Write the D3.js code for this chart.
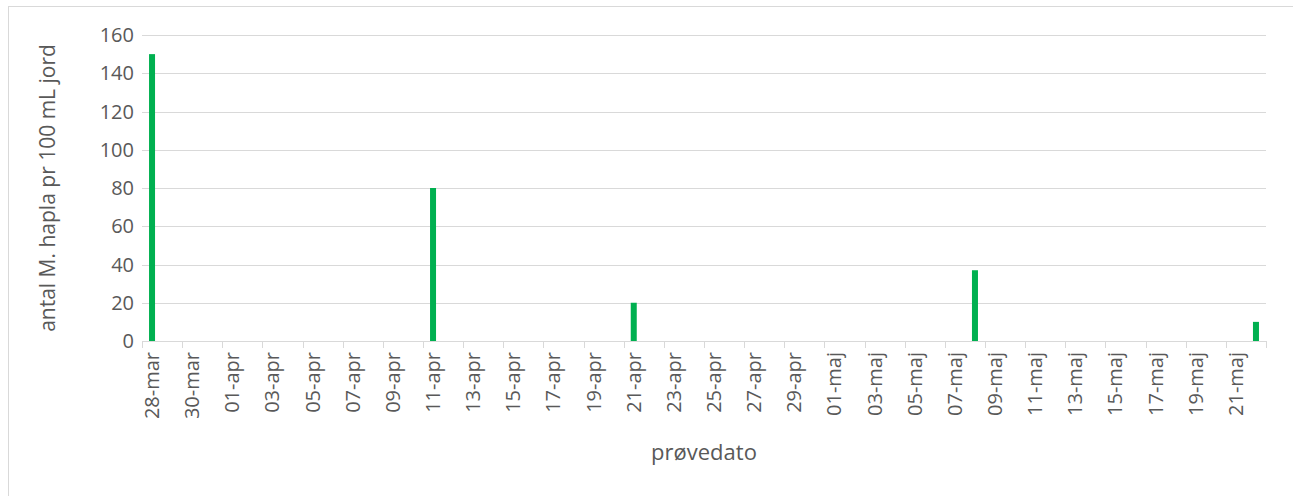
<!DOCTYPE html>
<html>
<head>
<meta charset="utf-8">
<script src="https://cdn.jsdelivr.net/npm/d3@7"></script>
<style>
  body { margin: 0; background: #fff; }
  text { font-family: "Open Sans", sans-serif; fill: #595959; }
</style>
</head>
<body>
<div class="chart"></div>
<script>
// sample dates and counts
const sampleDates = ["2019-03-28", "2019-04-11", "2019-04-21", "2019-05-08", "2019-05-22"];
const counts = [150, 80, 20, 37, 10];
const yTicks = [0, 20, 40, 60, 80, 100, 120, 140, 160];
const firstDay = "2019-03-28";
const lastDay = "2019-05-22";

const yTitle = "antal M. hapla pr 100 mL jord";
const xTitle = "prøvedato";

// danish short month names
const da = d3.timeFormatLocale({
    dateTime: "%A %e %B %Y %X", date: "%d.%m.%Y", time: "%H:%M:%S",
    periods: ["", ""],
    days: ["søndag", "mandag", "tirsdag", "onsdag", "torsdag", "fredag", "lørdag"],
    shortDays: ["søn", "man", "tir", "ons", "tor", "fre", "lør"],
    months: ["januar", "februar", "marts", "april", "maj", "juni", "juli", "august", "september", "oktober", "november", "december"],
    shortMonths: ["jan", "feb", "mar", "apr", "maj", "jun", "jul", "aug", "sep", "okt", "nov", "dec"]
});
const fmt = da.format("%d-%b");
const parse = d3.timeParse("%Y-%m-%d");

const width = 1293;
const height = 496;
const plotLeft = 142, plotRight = 1266, plotTop = 35, plotBottom = 341;

const svg = d3.select(".chart")
    .append("svg")
    .attr("width", width)
    .attr("height", height);

// outer frame (runs off the right and bottom edge)
svg.append("rect")
    .attr("x", 8.5).attr("y", 6.5)
    .attr("width", 1300).attr("height", 500)
    .attr("fill", "none")
    .attr("stroke", "#d9d9d9");

const days = d3.timeDay.range(parse(firstDay), d3.timeDay.offset(parse(lastDay), 1));

const x = d3.scaleBand()
    .domain(days.map(d => +d))
    .range([plotLeft, plotRight]);

const y = d3.scaleLinear()
    .domain([0, 160])
    .range([plotBottom, plotTop]);

// gridlines
svg.selectAll(".grid")
    .data(yTicks.slice(1))
    .enter()
    .append("line")
    .attr("x1", plotLeft).attr("x2", plotRight)
    .attr("y1", d => Math.round(y(d)) + 0.5)
    .attr("y2", d => Math.round(y(d)) + 0.5)
    .attr("stroke", "#d9d9d9")
    .attr("stroke-width", 1);

// y labels
svg.selectAll(".ylab")
    .data(yTicks)
    .enter()
    .append("text")
    .attr("x", plotLeft - 8)
    .attr("y", d => y(d))
    .attr("dy", "0.35em")
    .attr("text-anchor", "end")
    .attr("font-size", "20px")
    .text(d => d);

// bars
const bw = 6;
svg.selectAll(".bar")
    .data(sampleDates)
    .enter()
    .append("rect")
    .attr("x", d => x(+parse(d)) + x.bandwidth() / 2 - bw / 2)
    .attr("y", (d, i) => y(counts[i]))
    .attr("width", bw)
    .attr("height", (d, i) => plotBottom - y(counts[i]))
    .attr("fill", "#00b050");

// x axis line
svg.append("line")
    .attr("x1", plotLeft).attr("x2", plotRight)
    .attr("y1", plotBottom + 0.5).attr("y2", plotBottom + 0.5)
    .attr("stroke", "#d9d9d9");

// tick marks at every second day boundary
const tickDays = days.filter((d, i) => i % 2 === 0);
svg.selectAll(".tick")
    .data(tickDays.concat([null]))
    .enter()
    .append("line")
    .attr("x1", d => Math.round(d ? x(+d) : plotRight) + 0.5)
    .attr("x2", d => Math.round(d ? x(+d) : plotRight) + 0.5)
    .attr("y1", plotBottom)
    .attr("y2", plotBottom + 7)
    .attr("stroke", "#d9d9d9");

// x labels, rotated
svg.selectAll(".xlab")
    .data(tickDays)
    .enter()
    .append("text")
    .attr("transform", d => "translate(" + (x(+d) + x.bandwidth() / 2) + "," + (plotBottom + 11) + ") rotate(-90)")
    .attr("dy", "0.35em")
    .attr("text-anchor", "end")
    .attr("font-size", "20px")
    .text(d => fmt(d));

// axis titles
svg.append("text")
    .attr("transform", "translate(48," + ((plotTop + plotBottom) / 2) + ") rotate(-90)")
    .attr("dy", "0.35em")
    .attr("text-anchor", "middle")
    .attr("font-size", "21px")
    .text(yTitle);

svg.append("text")
    .attr("x", (plotLeft + plotRight) / 2)
    .attr("y", 452)
    .attr("dy", "0.35em")
    .attr("text-anchor", "middle")
    .attr("font-size", "22px")
    .text(xTitle);
</script>
</body>
</html>
